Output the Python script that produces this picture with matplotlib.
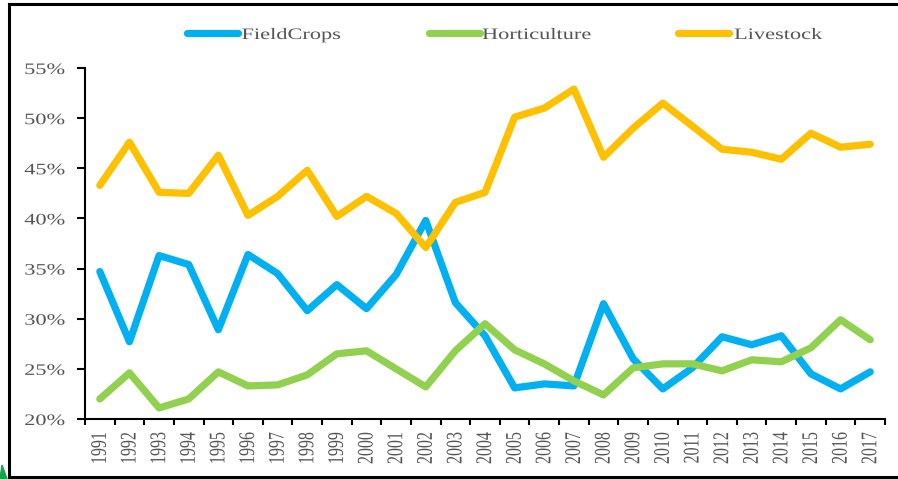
"""
Share of farm output by sector, 1991-2017 (FieldCrops / Horticulture / Livestock).
"""

import matplotlib
matplotlib.use("Agg")
import matplotlib.pyplot as plt
from matplotlib import patheffects
from matplotlib.lines import Line2D
from matplotlib.patches import Polygon
from matplotlib.transforms import Affine2D
from matplotlib.ticker import FixedLocator, FuncFormatter

years = [str(y) for y in range(1991, 2018)]

field_crops = [34.7, 27.7, 36.3, 35.4, 28.9, 36.4, 34.5, 30.8, 33.4, 31.0,
               34.4, 39.8, 31.6, 28.3, 23.1, 23.5, 23.3, 31.5, 26.0, 23.0,
               25.1, 28.2, 27.4, 28.3, 24.5, 23.0, 24.7]
horticulture = [22.0, 24.6, 21.1, 22.0, 24.7, 23.3, 23.4, 24.4, 26.5, 26.8,
                25.0, 23.2, 26.8, 29.5, 26.9, 25.5, 23.8, 22.4, 25.1, 25.5,
                25.5, 24.8, 25.9, 25.7, 27.1, 29.9, 27.9]
livestock = [43.3, 47.6, 42.6, 42.5, 46.3, 40.3, 42.2, 44.8, 40.2, 42.2,
             40.5, 37.1, 41.6, 42.6, 50.1, 51.0, 52.9, 46.1, 49.0, 51.5,
             49.2, 46.9, 46.6, 45.9, 48.5, 47.1, 47.4]

series_names = ["FieldCrops", "Horticulture", "Livestock"]
series_colors = ["#00B0F0", "#92D050", "#FFC000"]
y_ticks = [20, 25, 30, 35, 40, 45, 50, 55]

TEXT_COLOR = "#555555"
W, H = 898, 479


class HStretch(patheffects.AbstractPathEffect):
    """Stretch text horizontally (on screen) around its own centre."""

    def __init__(self, sx):
        super().__init__()
        self.sx = sx

    def draw_path(self, renderer, gc, tpath, affine, rgbFace=None):
        if len(tpath.vertices) == 0:
            return
        ext = tpath.get_extents()
        cx, cy = affine.transform([(ext.x0 + ext.x1) / 2, (ext.y0 + ext.y1) / 2])
        st = Affine2D().translate(-cx, -cy).scale(self.sx, 1).translate(cx, cy)
        renderer.draw_path(gc, tpath, affine + st, rgbFace)


stretch = [HStretch(1.4)]

plt.rcParams["font.family"] = ["Liberation Serif", "DejaVu Serif"]

fig = plt.figure(figsize=(W / 100, H / 100), dpi=100)
ax = fig.add_axes([85 / W, (H - 419) / H, 800 / W, 351 / H])

x = list(range(len(years)))
for vals, name, col in zip([field_crops, horticulture, livestock],
                           series_names, series_colors):
    ax.plot(x, vals, color=col, lw=5.2, label=name,
            solid_capstyle="round", solid_joinstyle="round")

ax.set_xlim(-0.5, len(years) - 0.5)
ax.set_ylim(20, 55)

ax.set_yticks(y_ticks)
ax.yaxis.set_major_formatter(FuncFormatter(lambda v, p: f"{v:.0f}%"))
ax.tick_params(axis="y", length=6, width=1.5, pad=12.5, labelsize=11.5,
               labelcolor=TEXT_COLOR, color="black")

ax.set_xticks(x)
ax.set_xticklabels(years, rotation=90, va="top")
ax.xaxis.set_minor_locator(FixedLocator([i - 0.5 for i in range(len(years) + 1)]))
ax.tick_params(axis="x", which="major", length=0, pad=9.4, labelsize=11.5,
               labelcolor=TEXT_COLOR)
ax.tick_params(axis="x", which="minor", length=4.5, width=1.5, color="black")

for side in ["top", "right"]:
    ax.spines[side].set_visible(False)
for side in ["left", "bottom"]:
    ax.spines[side].set_linewidth(1.5)
    ax.spines[side].set_color("black")

for lab in ax.get_xticklabels() + ax.get_yticklabels():
    lab.set_path_effects(stretch)

leg = fig.legend(loc="center left", bbox_to_anchor=(187 / W, 1 - 35 / H),
                 ncol=3, frameon=False, fontsize=11.5, handlelength=3.2,
                 handletextpad=1.1, columnspacing=6.4, borderpad=0,
                 borderaxespad=0)
for t in leg.get_texts():
    t.set_color(TEXT_COLOR)
    t.set_path_effects(stretch)

# outer frame (left, top, bottom) and the green corner mark
px = lambda a, b: (a / W, 1 - b / H)
for p0, p1 in [((9, 4), (W, 4)), ((9, 4), (9, 477)), ((9, 477), (W, 477))]:
    (x0, y0), (x1, y1) = px(*p0), px(*p1)
    fig.add_artist(Line2D([x0, x1], [y0, y1], color="black", lw=2.2,
                          transform=fig.transFigure))
fig.add_artist(Polygon([px(0, 479), px(7, 479), px(2, 465)], closed=True,
                       color="#16A34A", transform=fig.transFigure))

fig.savefig("out.png", dpi=100)
plt.close(fig)
